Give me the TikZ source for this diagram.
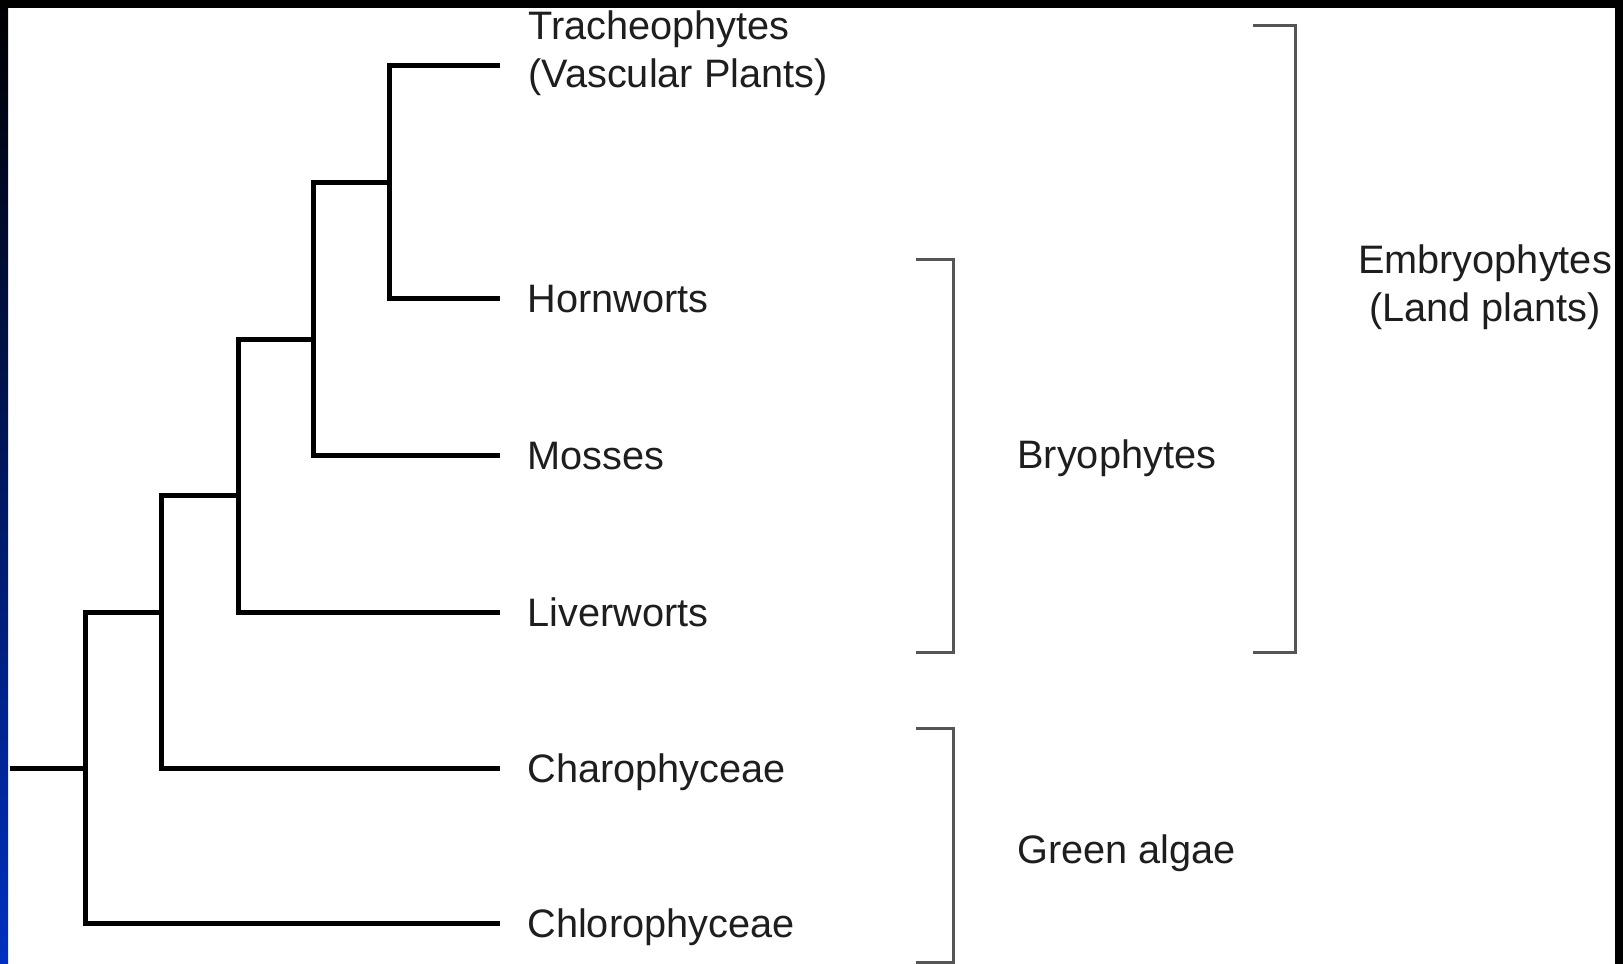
\documentclass[tikz,border=0pt]{standalone}
\usepackage{fontspec}
\setmainfont{Liberation Sans}
\usepackage{tikz}
\usetikzlibrary{positioning}
\usepackage{xcolor}
\definecolor{framenavy}{RGB}{0,48,192}
\definecolor{brackgray}{RGB}{85,85,85}
\definecolor{labelink}{RGB}{30,30,30}

\begin{document}
\begin{tikzpicture}[x=0.5pt, y=-0.5pt,
  branch/.style={line width=2.5pt, black},
  brack/.style={line width=1.5pt, brackgray},
  leaf/.style={inner sep=0pt, text=labelink, font=\fontsize{19.85}{24}\selectfont,
    text height=18.5pt, text depth=4.25pt},
  clade/.style={inner sep=0pt, text=labelink, font=\fontsize{19.85}{24}\selectfont}]
  \useasboundingbox (0,0) rectangle (1623,964);
  % Frame
  \fill[white] (0,0) rectangle (1623,964);
  \fill[black] (0,0) rectangle (1623,8);
  \fill[black] (1615,0) rectangle (1623,964);
  \shade[top color=black, bottom color=framenavy] (0,0) rectangle (8,964);
  % Leaf tips
  \coordinate (tipTrach) at (500,65);
  \coordinate (tipHorn) at (500,298);
  \coordinate (tipMoss) at (500,455);
  \coordinate (tipLiver) at (500,612);
  \coordinate (tipCharo) at (500,768);
  \coordinate (tipChloro) at (500,923);
  % Inner nodes
  \coordinate (nVasc) at (389,182);
  \coordinate (nMoss) at (313,339);
  \coordinate (nLiver) at (238,495);
  \coordinate (nCharo) at (161,612);
  \coordinate (nRoot) at (85,768);
  \coordinate (rootStub) at (10,768);
  % Branches
  \draw[branch] (tipTrach) -| (nVasc) |- (tipHorn);
  \draw[branch] (nVasc) -| (nMoss) |- (tipMoss);
  \draw[branch] (nMoss) -| (nLiver) |- (tipLiver);
  \draw[branch] (nLiver) -| (nCharo) |- (tipCharo);
  \draw[branch] (nCharo) -| (nRoot) |- (tipChloro);
  \draw[branch] (rootStub) -- (nRoot);
  % Leaf labels
  \node[clade, anchor=base west, align=left] (trach) at (528,87)
    {Tracheophytes\\(Vascular Plants)};
  \node[leaf, right=13.5pt of tipHorn] (horn) {Hornworts};
  \node[leaf, right=13.5pt of tipMoss] (moss) {Mosses};
  \node[leaf, right=13.5pt of tipLiver] (liver) {Liverworts};
  \node[leaf, right=13.5pt of tipCharo] (charo) {Charophyceae};
  \node[leaf, right=13.5pt of tipChloro] (chloro) {Chlorophyceae};
  % Brackets
  \draw[brack] (916,259) -- (953,259) -- (953,652) -- (916,652);
  \draw[brack] (1253,25) -- (1295,25) -- (1295,652) -- (1253,652);
  \draw[brack] (916,728) -- (953,728) -- (953,962) -- (916,962);
  % Group labels
  \node[clade, anchor=base west] (bryo) at (1017,468) {Bryophytes};
  \node[clade, anchor=base west] (green) at (1017,863) {Green algae};
  \node[clade, anchor=base, align=center] (embryo) at (1485,321)
    {Embryophytes\\(Land plants)};
\end{tikzpicture}
\end{document}
